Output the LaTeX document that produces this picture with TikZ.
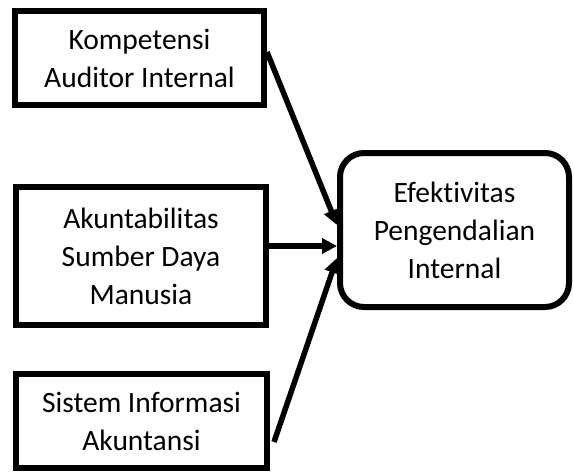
\documentclass[tikz,border=0pt]{standalone}
\usepackage{fontspec}
\setmainfont{Carlito}[Ligatures=NoCommon]
\usetikzlibrary{arrows.meta}
\begin{document}
\begin{tikzpicture}[x=1pt, y=-1pt,
      varbox/.style={draw, line width=6pt, align=center, inner sep=0pt,
         font=\fontsize{29.5}{38}\selectfont},
      link/.style={line width=5.5pt, -{Triangle[length=15pt, width=15pt]}}]
      \useasboundingbox (0, 0) rectangle (574, 472);
      \node[varbox, minimum width=249pt, minimum height=94pt] (kai) at (139.5, 58) {Kompetensi\\Auditor Internal};
      \node[varbox, minimum width=250pt, minimum height=138pt] (asdm) at (141, 256) {Akuntabilitas\\Sumber Daya\\Manusia};
      \node[varbox, minimum width=251pt, minimum height=94pt] (sia) at (141.5, 421) {Sistem Informasi\\Akuntansi};
      \node[varbox, rounded corners=24pt, minimum width=229pt, minimum height=154pt] (epi) at (454.5, 230) {Efektivitas\\Pengendalian\\Internal};
      \draw[link] ([yshift=6pt]kai.east) -- ([yshift=5pt]epi.west);
      \draw[link] ([yshift=10pt]asdm.east) -- ([yshift=-16pt]epi.west);
      \draw[link] ([xshift=4pt, yshift=-21pt]sia.east) -- ([yshift=-28pt]epi.west);
   \end{tikzpicture}
\end{document}
